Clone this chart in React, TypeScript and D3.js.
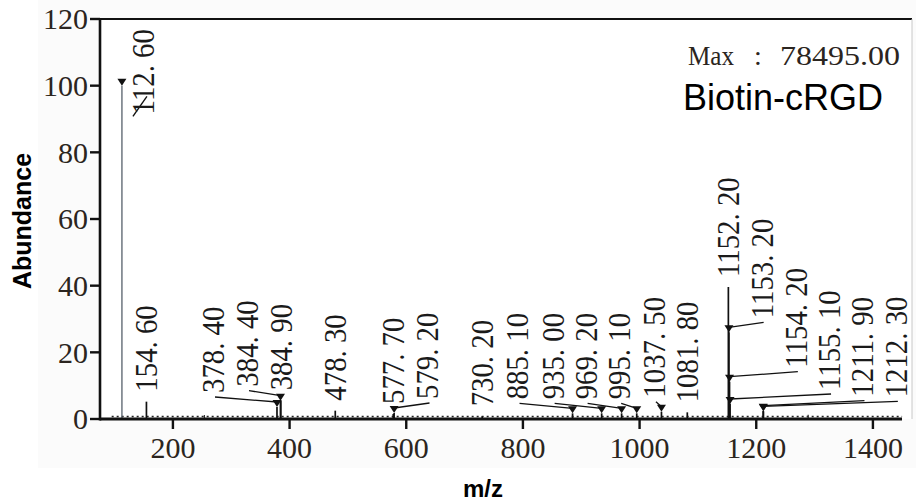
import React from 'react';
import * as d3 from 'd3';

// ---- data ----
const labelledMz = [112.6, 154.6, 378.4, 384.4, 384.9, 478.3, 577.7, 579.2, 730.2, 885.1, 935.0, 969.2, 995.1, 1037.5, 1081.8, 1152.2, 1153.2, 1154.2, 1155.1, 1211.9, 1212.3];
const labelledAbundance = [100, 5.2, 3.6, 5.5, 5.6, 2.5, 1.5, 1.8, 0.8, 1.7, 1.7, 1.7, 1.7, 2.2, 2.0, 39.6, 26.0, 11.2, 4.5, 2.5, 2.3];
const minorMz = [254.0, 1289.0];
const minorAbundance = [1.2, 1.3];
const xTicks = [200, 400, 600, 800, 1000, 1200, 1400];
const yTicks = [0, 20, 40, 60, 80, 100, 120];
const maxLabel = 'Max';
const maxValue = '78495.00';
const sampleName = 'Biotin-cRGD';

// ---- layout (label placement, px) ----
const labelOffsetPx = [21, 0, -64, -33.5, 0, 0, 0, 33.4, 0, -55, -49, -36, -17.5, -7.5, 0, 0, 32.7, 66.3, 99, 99.3, 132.4];
const hasMarker = [true, false, true, true, false, false, false, true, false, true, true, true, true, true, false, false, true, true, true, true, true];

const W = 916, H = 504;
const M = { left: 100, right: 905, top: 19, bottom: 419 };

export default function App() {
  const x = d3.scaleLinear().domain([75, 1455]).range([M.left, M.right]);
  const y = d3.scaleLinear().domain([0, 120]).range([M.bottom, M.top]);
  const maxIdx = d3.maxIndex(labelledAbundance);
  const labelFont = 32, labelScale = 0.9;
  const serif = '"Liberation Serif", "Times New Roman", serif';
  const sans = '"Liberation Sans", Arial, sans-serif';

  const labels = labelledMz.map((mz, i) => {
    const px = x(mz);
    const tip = y(labelledAbundance[i]);
    const dx = labelOffsetPx[i];
    const lx = px + dx;
    const text = mz.toFixed(2).replace('.', '. ');
    const digits = text.replace(/[^0-9]/g, '').length;
    const len = (digits * 0.5 + 0.5) * labelFont * labelScale;
    const displaced = Math.abs(dx) > 3;
    let bottom = tip - (displaced ? 14 : 10);
    let clamped = false;
    if (bottom - len < y(120) + 9) {
      bottom = y(120) + 9 + len;
      clamped = true;
    }
    return { i, px, tip, lx, text, bottom, displaced, clamped };
  });

  return (
    <svg width={W} height={H} style={{ position: 'absolute', left: 0, top: 0, background: '#fff' }}>
      <rect x={0} y={0} width={W} height={H} fill="#fff" />
      <rect x={38} y={0} width={W - 38} height={468} fill="#fbfbfb" />
      <rect x={M.left} y={M.top} width={912 - M.left} height={M.bottom - M.top} fill="#fff" />

      {/* baseline noise */}
      <line x1={x(95)} x2={x(1450)} y1={y(0) - 2.5} y2={y(0) - 2.5} stroke="#222" strokeWidth={1.4} strokeDasharray="2 3" />

      {/* minor peaks */}
      {minorMz.map((mz, i) => (
        <line key={'m' + i} x1={x(mz)} x2={x(mz)} y1={y(0)} y2={y(minorAbundance[i])} stroke="#333" strokeWidth={1.2} />
      ))}

      {/* labelled peaks */}
      {labels.map((l) => (
        <line key={'p' + l.i} x1={l.px} x2={l.px} y1={y(0)} y2={l.tip}
          stroke={l.i === maxIdx ? '#56606b' : '#111'} strokeWidth={l.i === maxIdx ? 1.3 : 1.7} />
      ))}

      {/* frame and axes */}
      <line x1={M.left} x2={912} y1={M.top} y2={M.top} stroke="#111" strokeWidth={2.2} />
      <line x1={912} x2={912} y1={M.top} y2={M.bottom} stroke="#c8c8c8" strokeWidth={1} />
      <line x1={M.left} x2={M.left} y1={M.top - 1} y2={M.bottom + 1.5} stroke="#111" strokeWidth={2.6} />
      <line x1={M.left} x2={902} y1={y(0)} y2={y(0)} stroke="#111" strokeWidth={3} />

      {yTicks.map((t) => (
        <g key={'yt' + t}>
          <line x1={M.left - 10} x2={M.left} y1={y(t)} y2={y(t)} stroke="#111" strokeWidth={2.4} />
          <text x={M.left - 12} y={y(t)} dy="0.34em" textAnchor="end" fontFamily={serif} fontSize={30} fill="#2b2520">{t}</text>
        </g>
      ))}
      {xTicks.map((t) => (
        <g key={'xt' + t}>
          <line x1={x(t)} x2={x(t)} y1={y(0)} y2={y(0) + 10} stroke="#111" strokeWidth={2.4} />
          <text x={x(t)} y={458} textAnchor="middle" fontFamily={serif} fontSize={30} fill="#2b2520">{t}</text>
        </g>
      ))}

      {/* markers and leaders */}
      {labels.map((l) => (
        <g key={'mk' + l.i}>
          {hasMarker[l.i] && (
            <path d={`M${l.px - 4.5},${l.tip - 7}L${l.px + 4.5},${l.tip - 7}L${l.px},${l.tip}Z`} fill="#111" />
          )}
          {l.clamped ? (
            <line x1={l.lx - 10} y1={l.bottom + 2} x2={l.lx + 4} y2={l.bottom - 18} stroke="#111" strokeWidth={1.4} />
          ) : l.displaced ? (
            <line x1={l.lx + 2} y1={l.bottom + 4} x2={l.px} y2={l.tip - 5} stroke="#111" strokeWidth={1.3} />
          ) : null}
        </g>
      ))}

      {/* peak labels */}
      {labels.map((l) => (
        <text key={'lb' + l.i}
          transform={`translate(${l.lx},${l.bottom}) rotate(-90) scale(${labelScale},1)`}
          dy="0.34em" fontFamily={serif} fontSize={labelFont} fill="#1a1a1a">{l.text}</text>
      ))}

      <text x={688} y={65} fontFamily={serif} fontSize={28} fill="#2b2520" textLength={46} lengthAdjust="spacingAndGlyphs">{maxLabel}</text>
      <text x={758} y={65} textAnchor="middle" fontFamily={serif} fontSize={28} fill="#2b2520">:</text>
      <text x={780} y={65} fontFamily={serif} fontSize={28} fill="#2b2520" textLength={120} lengthAdjust="spacingAndGlyphs">{maxValue}</text>
      <text x={683} y={110} fontFamily={sans} fontSize={36} fill="#000">{sampleName}</text>

      <text transform={`translate(22,221) rotate(-90)`} textAnchor="middle" dominantBaseline="central" fontFamily={sans} fontWeight="bold" fontSize={25} fill="#000">Abundance</text>
      <text x={483} y={497} textAnchor="middle" fontFamily={sans} fontWeight="bold" fontSize={24} fill="#000">m/z</text>
    </svg>
  );
}
